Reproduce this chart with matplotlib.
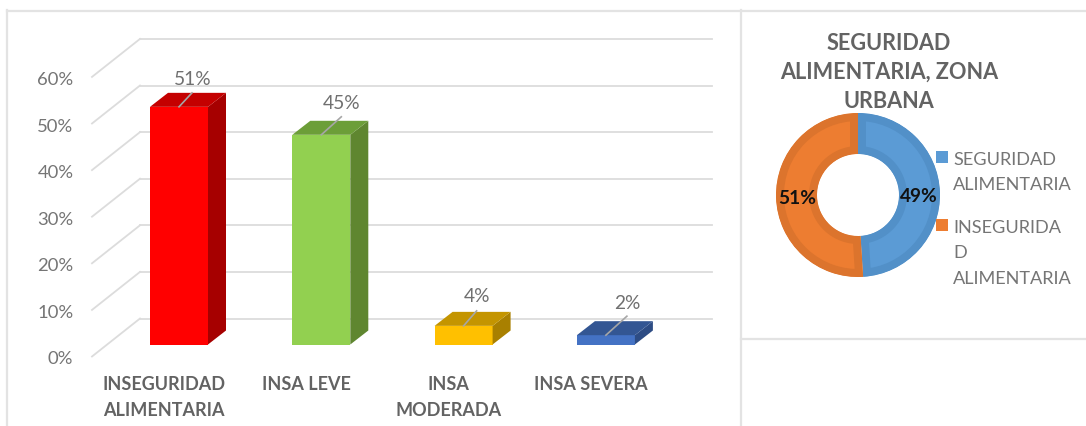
from matplotlib import pyplot as plt, patches

plt.rcParams['font.family'] = ['Lato', 'DejaVu Sans']

# bar chart data
categories = ['INSEGURIDAD\nALIMENTARIA', 'INSA LEVE', 'INSA\nMODERADA', 'INSA SEVERA']
values = [51, 45, 4, 2]
y_ticks = [0, 10, 20, 30, 40, 50, 60]

# donut data
donut_title = ['SEGURIDAD', 'ALIMENTARIA, ZONA', 'URBANA']
donut_labels = ['SEGURIDAD\nALIMENTARIA', 'INSEGURIDA\nD\nALIMENTARIA']
donut_values = [49, 51]

W, H = 1086, 427
fig = plt.figure(figsize=(W / 100, H / 100), dpi=100, facecolor='white')

# whole-figure axes, scaled so x is category number and y is percent
px_x = 142.3  # pixels per category
px_y = 4.66   # pixels per percent
x0, y0 = 179, 345.5
ax = fig.add_axes([0, 0, 1, 1])
ax.set_xlim(-x0 / px_x, (W - x0) / px_x)
ax.set_ylim((y0 - H) / px_y, y0 / px_y)
ax.axis('off')


def dx(p):
    return p / px_x


def dy(p):
    return p / px_y


# panel frames
def frame(xs, ys):
    fig.add_artist(plt.Line2D([x / W for x in xs], [1 - y / H for y in ys],
                              color='#e3e3e3', lw=1.6))


frame([7, 7], [427, 11])
frame([7, 1086], [11.5, 11.5])
frame([741, 741], [11, 427])
frame([741, 1086], [340, 340])

# gridlines on the back wall and the slanted floor/side lines
grid = '#dcdcdc'
left = dx(140 - x0)
right = dx(712 - x0)
for t in y_ticks:
    back = t + dy(345.5 - 319.5)
    ax.plot([left, right], [back, back], color=grid, lw=1.3, zorder=1)
    ax.plot([dx(92 - x0), left], [t - dy(12), back], color=grid, lw=1.3, zorder=1)
    ax.text(dx(73.5 - x0), t - dy(14), f'{t}%', ha='right', va='center',
            fontsize=13.3, color='#757575')

# bars
front_cols = ['#ff0000', '#92d050', '#ffc000', '#4472c4']
side_cols = ['#a60000', '#5f8630', '#a98000', '#2d4c84']
top_cols = ['#c40000', '#6c9e38', '#c49500', '#335693']
bar_w = 58 / px_x
depth_x, depth_y = dx(18), dy(14)
label_off = [(14, 28), (20, 32), (13, 30), (21, 33)]
leader_off = [(13, 14), (20, 18), (13, 15), (21, 19)]

for i, v in enumerate(values):
    ax.bar(i, v, width=bar_w, color=front_cols[i], zorder=3)
    l, r = i - bar_w / 2, i + bar_w / 2
    ax.add_patch(patches.Polygon([(r, 0), (r + depth_x, depth_y), (r + depth_x, v + depth_y), (r, v)],
                                 facecolor=side_cols[i], zorder=3))
    ax.add_patch(patches.Polygon([(l, v), (l + depth_x, v + depth_y), (r + depth_x, v + depth_y), (r, v)],
                                 facecolor=top_cols[i], zorder=3))
    ax.plot([i, i + dx(leader_off[i][0])], [v, v + dy(leader_off[i][1])],
            color='#a6a6a6', lw=1.2, zorder=4)
    ax.text(i + dx(label_off[i][0]), v + dy(label_off[i][1]), f'{v}%',
            ha='center', va='center', fontsize=13.8, color='#707070', zorder=5)
    ax.text(i - dx(15), -dy(31), categories[i], ha='center', va='top', fontsize=13,
            fontweight='bold', color='#636363', linespacing=1.6)

# donut, clockwise from the top; the thick edge is clipped to each wedge to leave an inner band
band = 8
outer, inner = 82, 41
dax = fig.add_axes([(858 - outer) / W, 1 - (196 + outer) / H, 2 * outer / W, 2 * outer / H])
donut_cols = ['#5b9bd5', '#ed7d31']
donut_dark = ['#5290c8', '#dc742d']
wedges, _ = dax.pie(donut_values, colors=donut_cols, startangle=90, counterclock=False,
                    radius=1, wedgeprops=dict(width=(outer - inner) / outer))
dax.set_xlim(-1, 1)
dax.set_ylim(-1, 1)
for w, c in zip(wedges, donut_dark):
    w.set_edgecolor(c)
    w.set_linewidth(2 * band * 72 / 100)
    w.set_clip_on(True)
    w.set_clip_path(w)


def ftext(x, y, s, **kw):
    fig.text(x / W, 1 - y / H, s, va='center', **kw)


ftext(919, 196, f'{donut_values[0]}%', ha='center', fontsize=13.8, fontweight='bold', color='#111111')
ftext(797, 199, f'{donut_values[1]}%', ha='center', fontsize=13.8, fontweight='bold', color='#111111')

# donut title
for s, y in zip(donut_title, [44, 72, 101]):
    ftext(889, y, s, ha='center', fontsize=15.6, fontweight='bold', color='#636363')

# donut legend
for c, lab, ytop, ysq in zip(donut_cols, donut_labels, [152, 220], [158, 226]):
    fig.add_artist(patches.Rectangle((936 / W, 1 - (ysq + 6) / H), 12 / W, 12 / H,
                                     transform=fig.transFigure, facecolor=c, edgecolor='none'))
    fig.text(953 / W, 1 - ytop / H, lab, ha='left', va='top', fontsize=13.1,
             color='#757575', linespacing=1.72)

fig.savefig('out.png', dpi=100)
